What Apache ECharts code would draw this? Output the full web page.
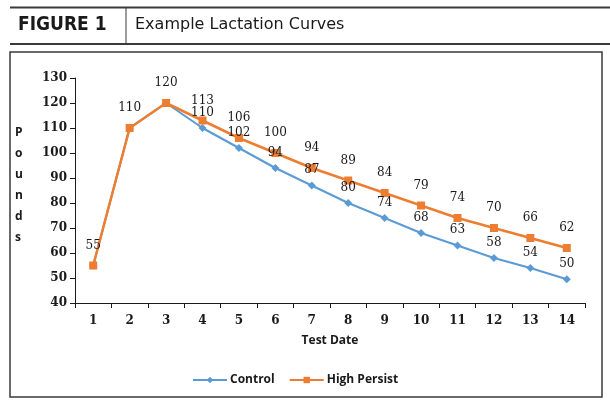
<!DOCTYPE html>
<html>
<head>
<meta charset="utf-8">
<script src="https://cdn.jsdelivr.net/npm/echarts@6/dist/echarts.min.js"></script>
<style>
  html, body { margin: 0; padding: 0; background: #fff; }
  #chart { width: 610px; height: 405px; }
</style>
</head>
<body>
<div id="chart"></div>
<script>
'use strict';

// ---- data ----
const testDates = ['1', '2', '3', '4', '5', '6', '7', '8', '9', '10', '11', '12', '13', '14'];
const control = [55, 110, 120, 110, 102, 94, 87, 80, 74, 68, 63, 58, 54, 49.5];
const controlLabels = ['', '', '', '110', '102', '94', '87', '80', '74', '68', '63', '58', '54', '50'];
const highPersist = [55, 110, 120, 113, 106, 100, 94, 89, 84, 79, 74, 70, 66, 62];
const yTicks = { min: 40, max: 130, step: 10 };

// ---- palette ----
const C = { control: '#5b9bd5', persist: '#ed7d31', ink: '#1a1a1a', rule: '#3a3a3a' };
const serif = '"DejaVu Serif", "Liberation Serif", serif';
const sans = '"Open Sans", "DejaVu Sans", sans-serif';
const dataLabel = { fontFamily: serif, fontSize: 12, color: C.ink };

const chart = echarts.init(document.getElementById('chart'));
chart.setOption({
  animation: false,
  textStyle: { fontFamily: sans },
  grid: { left: 75, right: 25, top: 78, bottom: 102 },
  graphic: [
    { type: 'line', shape: { x1: 10, y1: 7.5, x2: 610, y2: 7.5 }, style: { stroke: C.rule, lineWidth: 2 } },
    { type: 'line', shape: { x1: 10, y1: 44, x2: 610, y2: 44 }, style: { stroke: C.rule, lineWidth: 2 } },
    { type: 'line', shape: { x1: 126, y1: 8, x2: 126, y2: 44 }, style: { stroke: C.rule, lineWidth: 1 } },
    { type: 'text', left: 18, top: 16, style: { text: 'FIGURE 1', font: 'bold 19px "DejaVu Sans Condensed", "DejaVu Sans", sans-serif', fill: C.ink } },
    { type: 'text', left: 135, top: 17, style: { text: 'Example Lactation Curves', font: '16px "DejaVu Sans", sans-serif', fill: C.ink } },
    { type: 'rect', shape: { x: 10, y: 52, width: 592, height: 345 }, style: { fill: 'none', stroke: C.rule, lineWidth: 1.5 } },
    { type: 'text', left: 15, top: 122, style: { text: 'P\no\nu\nn\nd\ns', font: 'bold 12px "Open Sans", sans-serif', lineHeight: 21, fill: C.ink, align: 'center' } },
  ],
  legend: {
    bottom: 14, left: 187, itemWidth: 34, itemHeight: 8, itemGap: 14,
    textStyle: { fontFamily: sans, fontSize: 12, fontWeight: 'bold', color: C.ink, padding: [0, 0, 0, -2] },
    data: ['Control', 'High Persist'],
  },
  xAxis: {
    type: 'category', data: testDates, boundaryGap: true,
    name: 'Test Date', nameLocation: 'middle', nameGap: 32,
    nameTextStyle: { fontFamily: sans, fontSize: 12, fontWeight: 'bold', color: C.ink },
    axisLine: { lineStyle: { color: C.ink, width: 1 } },
    axisTick: { show: true, length: 5, lineStyle: { color: C.ink } },
    axisLabel: { fontFamily: serif, fontSize: 12, fontWeight: 'bold', color: C.ink, margin: 12 },
  },
  yAxis: {
    type: 'value', min: yTicks.min, max: yTicks.max, interval: yTicks.step,
    axisLine: { show: true, lineStyle: { color: C.ink, width: 1 } },
    axisTick: { show: true, length: 5, lineStyle: { color: C.ink } },
    axisLabel: { fontFamily: serif, fontSize: 12, fontWeight: 'bold', color: C.ink, margin: 8 },
    splitLine: { show: false },
  },
  series: [
    {
      name: 'Control', type: 'line', data: control, z: 2,
      symbol: 'diamond', symbolSize: 8,
      lineStyle: { color: C.control, width: 2 }, itemStyle: { color: C.control },
    },
    {
      name: 'High Persist', type: 'line', data: highPersist, z: 3,
      symbol: 'rect', symbolSize: 8,
      lineStyle: { color: C.persist, width: 2.5 }, itemStyle: { color: C.persist },
      label: { show: true, position: 'top', distance: 10, ...dataLabel },
    },
    {
      // label layer for Control, drawn above both lines
      name: 'Control labels', type: 'line', data: control, z: 10, silent: true,
      symbol: 'circle', symbolSize: 1, showSymbol: true,
      lineStyle: { opacity: 0 }, itemStyle: { color: 'rgba(0,0,0,0)' },
      label: { show: true, position: 'top', distance: 9, formatter: p => controlLabels[p.dataIndex], ...dataLabel },
    },
  ],
});
</script>
</body>
</html>
